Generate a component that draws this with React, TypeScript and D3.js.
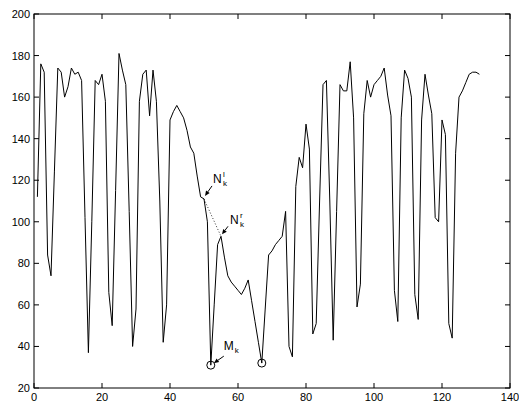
import * as d3 from "d3";
import { useEffect, useRef } from "react";

// sample index 1..131 and the measured profile
const values = [
  112, 176, 172, 84, 74, 124, 174, 172, 160, 165,
  174, 171, 172, 168, 102, 37, 100, 168, 166, 171,
  158, 66, 50, 115, 181, 173, 166, 105, 40, 58,
  158, 171, 173, 151, 173, 158, 110, 42, 60, 149,
  153, 156, 153, 150, 144, 136, 133, 122, 112, 111,
  100, 31, 60, 89, 93, 83, 74, 71, 69, 67,
  65, 68, 72, 62, 52, 42, 32, 58, 84, 86,
  89, 91, 93, 105, 40, 35, 117, 131, 126, 147,
  135, 46, 51, 110, 166, 168, 110, 43, 105, 166,
  163, 163, 177, 150, 59, 70, 152, 168, 160, 166,
  168, 170, 174, 161, 151, 67, 52, 150, 173, 169,
  160, 65, 53, 149, 171, 161, 152, 102, 100, 149,
  142, 51, 44, 133, 160, 163, 167, 171, 172, 172,
  171,
];
const xTicks = [0, 20, 40, 60, 80, 100, 120, 140];
const yTicks = [20, 40, 60, 80, 100, 120, 140, 160, 180, 200];

// marked minima (M_k) and the two neighbours N_k^l, N_k^r
const minima = [52, 67];
const nLeft = 50;
const nRight = 55;

export default function App() {
  const ref = useRef(null);

  useEffect(() => {
    const svg = d3.select(ref.current);
    svg.selectAll("*").remove();

    const width = 519;
    const height = 405;
    const left = 34, right = 510, top = 14, bottom = 388;

    svg.attr("width", width).attr("height", height);

    const x = d3.scaleLinear().domain([0, 140]).range([left, right]);
    const y = d3.scaleLinear().domain([20, 200]).range([bottom, top]);

    svg.append("rect")
      .attr("width", width).attr("height", height).attr("fill", "white");

    const font = "Liberation Sans, Arial, Helvetica, sans-serif";

    // ticks on all four sides, pointing in
    const tl = 5;
    xTicks.forEach(t => {
      svg.append("line").attr("x1", x(t)).attr("x2", x(t))
        .attr("y1", bottom).attr("y2", bottom - tl).attr("stroke", "black");
      svg.append("line").attr("x1", x(t)).attr("x2", x(t))
        .attr("y1", top).attr("y2", top + tl).attr("stroke", "black");
      svg.append("text").attr("x", x(t)).attr("y", 401)
        .attr("text-anchor", "middle").attr("font-family", font)
        .attr("font-size", 11).text(t);
    });
    yTicks.forEach(t => {
      svg.append("line").attr("x1", left).attr("x2", left + tl)
        .attr("y1", y(t)).attr("y2", y(t)).attr("stroke", "black");
      svg.append("line").attr("x1", right).attr("x2", right - tl)
        .attr("y1", y(t)).attr("y2", y(t)).attr("stroke", "black");
      svg.append("text").attr("x", 30).attr("y", y(t) + 4)
        .attr("text-anchor", "end").attr("font-family", font)
        .attr("font-size", 11).text(t);
    });

    svg.append("rect")
      .attr("x", left).attr("y", top)
      .attr("width", right - left).attr("height", bottom - top)
      .attr("fill", "none").attr("stroke", "black").attr("stroke-width", 1);

    const line = d3.line()
      .x((d, i) => x(i + 1))
      .y(d => y(d));

    svg.append("path")
      .datum(values)
      .attr("d", line)
      .attr("fill", "none")
      .attr("stroke", "black")
      .attr("stroke-width", 1);

    // dotted chord between the neighbours
    svg.append("line")
      .attr("x1", x(nLeft)).attr("y1", y(values[nLeft - 1]))
      .attr("x2", x(nRight)).attr("y2", y(values[nRight - 1]))
      .attr("stroke", "black").attr("stroke-width", 0.8)
      .attr("stroke-dasharray", "1,2");

    svg.selectAll("circle.min")
      .data(minima)
      .join("circle")
      .attr("class", "min")
      .attr("cx", d => x(d))
      .attr("cy", d => y(values[d - 1]))
      .attr("r", 4)
      .attr("fill", "none")
      .attr("stroke", "black");

    const arrow = (px, py, dx1, dy1, dx2, dy2) => {
      const x1 = px + dx1, y1 = py + dy1, x2 = px + dx2, y2 = py + dy2;
      const ang = Math.atan2(y2 - y1, x2 - x1);
      const len = 5, w = 2.2;
      const bx = x2 - len * Math.cos(ang), by = y2 - len * Math.sin(ang);
      svg.append("line").attr("x1", x1).attr("y1", y1).attr("x2", bx).attr("y2", by)
        .attr("stroke", "black");
      svg.append("polygon")
        .attr("points", [
          [x2, y2],
          [bx + w * Math.sin(ang), by - w * Math.cos(ang)],
          [bx - w * Math.sin(ang), by + w * Math.cos(ang)],
        ].map(p => p.join(",")).join(" "))
        .attr("fill", "black");
    };

    // main letter with a superscript and a subscript after it
    const label = (px, py, main, sup, sub) => {
      const t = svg.append("text").attr("x", px).attr("y", py)
        .attr("font-family", font).attr("font-size", 12);
      t.append("tspan").text(main);
      const sx = px + (main === "M" ? 11 : 10);
      if (sup) {
        svg.append("text").attr("x", sx).attr("y", py - 6)
          .attr("font-family", font).attr("font-size", 8).text(sup);
      }
      svg.append("text").attr("x", sx).attr("y", py + 3)
        .attr("font-family", font).attr("font-size", 8).text(sub);
    };

    const pl = [x(nLeft), y(values[nLeft - 1])];
    arrow(pl[0], pl[1], 8, -13, 1, -3);
    label(pl[0] + 9, pl[1] - 16, "N", "l", "k");

    const pr = [x(nRight), y(values[nRight - 1])];
    arrow(pr[0], pr[1], 7, -10, 1, -2);
    label(pr[0] + 9, pr[1] - 12, "N", "r", "k");

    const pm = [x(minima[0]), y(values[minima[0] - 1])];
    arrow(pm[0], pm[1], 13, -9, 3, -2);
    label(pm[0] + 13, pm[1] - 15, "M", null, "k");
  }, []);

  return (
    <div style={{ position: "absolute", left: 0, top: 0 }}>
      <svg ref={ref}></svg>
    </div>
  );
}
